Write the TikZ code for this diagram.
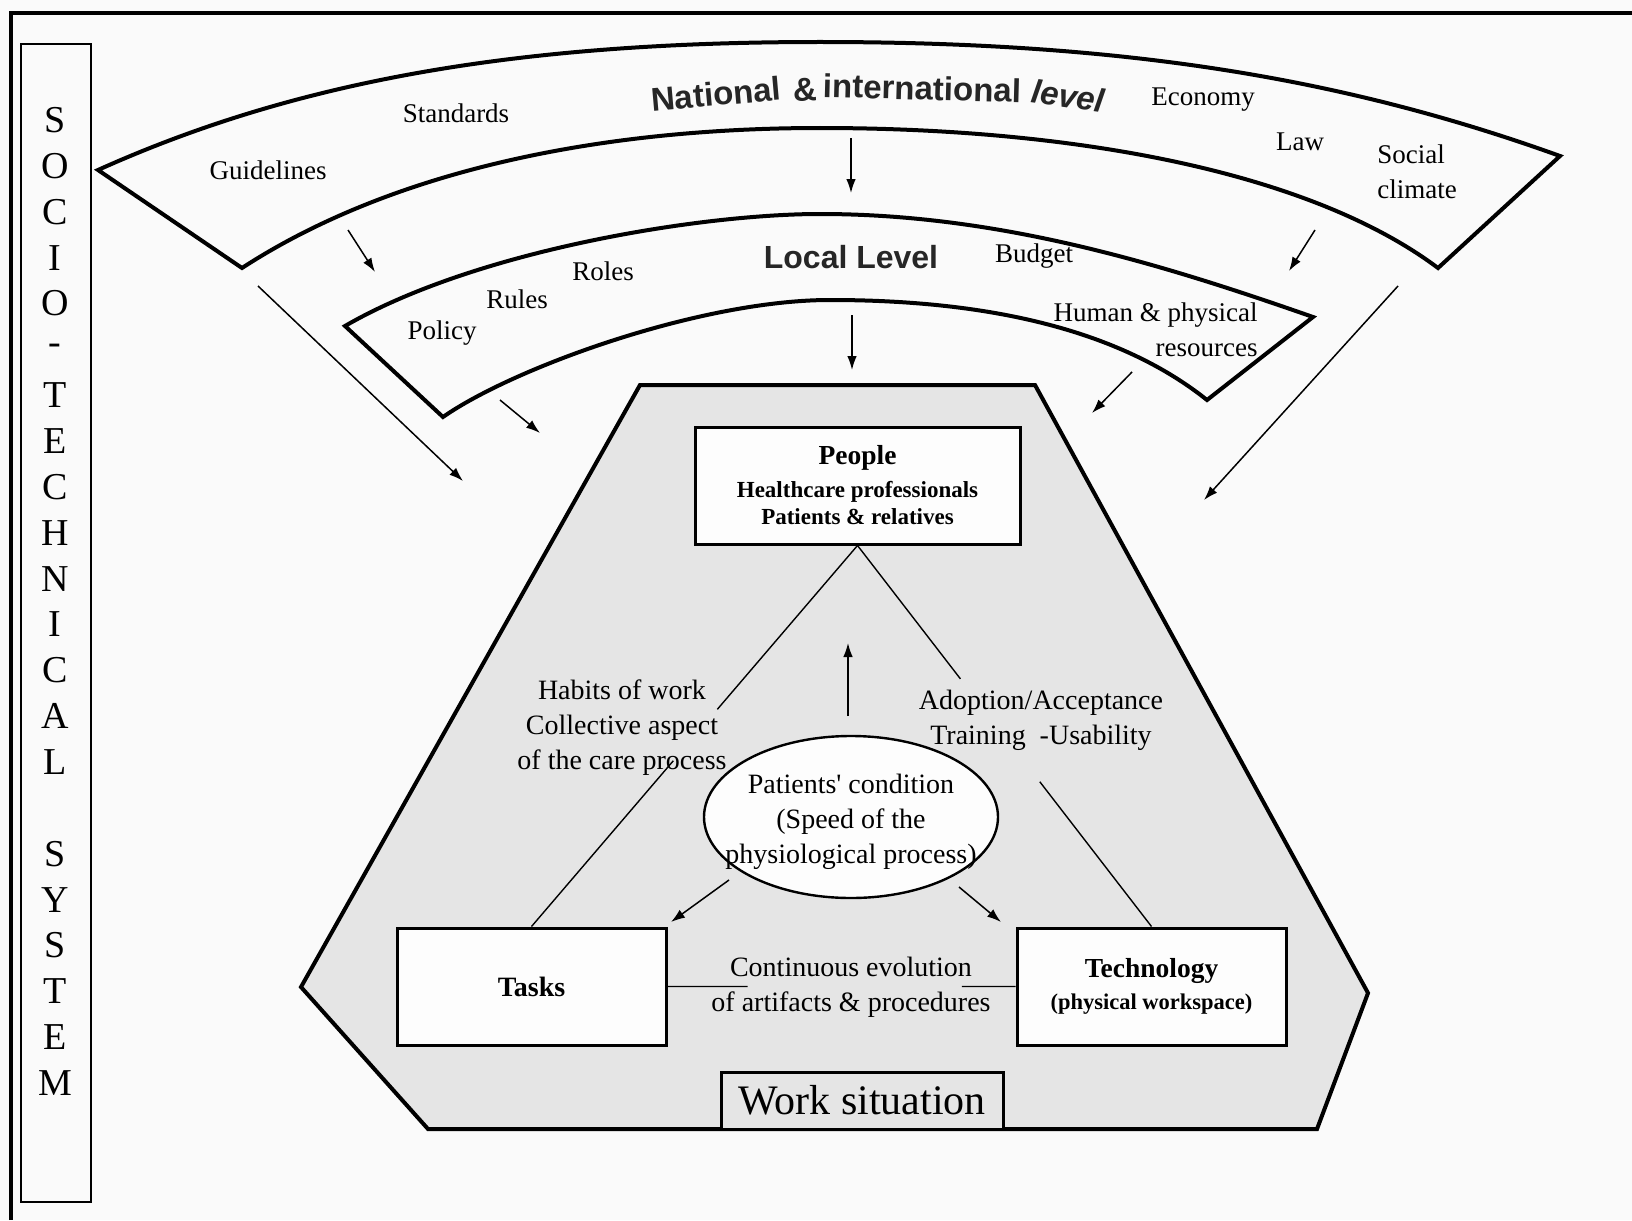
\documentclass[tikz,border=0pt]{standalone}
\usepackage{fontspec}
\setmainfont{Liberation Serif}
\newfontfamily\headfont{Liberation Sans}
\usetikzlibrary{arrows.meta,calc,shapes.geometric}

\definecolor{paper}{RGB}{250,250,250}
\definecolor{situation}{RGB}{229,229,229}
\definecolor{boxfill}{RGB}{253,253,253}

\begin{document}
\begin{tikzpicture}[x=0.5pt,y=-0.5pt,
  band/.style={line width=2pt,line join=miter,miter limit=4},
  linkline/.style={line width=0.7pt},
  arr/.style={line width=0.75pt,-{Latex[length=7pt,width=4.8pt]}},
  lbl/.style={inner sep=0pt,font=\fontsize{13.5}{17.5}\selectfont},
  midlbl/.style={inner sep=0pt,align=center,font=\fontsize{14}{17.5}\selectfont},
  heading/.style={inner sep=0pt,text=black!85},
  entity/.style={draw,line width=1.5pt,fill=boxfill,inner sep=0pt,align=center},
]
% page and outer frame
\fill[paper] (0,0) rectangle (1632,1220);
\useasboundingbox (0,0) rectangle (1632,1220);
\draw[line width=2.25pt] (11,1220) -- (11,13) -- (1632,13);

% socio-technical column
\draw[line width=0.6pt] (21,44) rectangle (91,1202);
\foreach \ch [count=\i from 0] in {S,O,C,I,O,-,T,E,C,H,N,I,C,A,L,{},S,Y,S,T,E,M}
  \node[inner sep=0pt,font=\fontsize{19}{19}\selectfont] (sts\i) at (55,{120+45.86*\i}) {\ch};

% national & international band
\draw[band] (98,170) .. controls (298,80) and (520,42) .. (820,42)
  .. controls (1120,42) and (1340,76.8) .. (1560,156) -- (1438,268)
  .. controls (1308,170.5) and (1070,128) .. (820,128)
  .. controls (600,128) and (392,170.5) .. (242,268) -- cycle;

\node[heading,rotate=5,font=\headfont\bfseries\fontsize{16.5}{20}\selectfont] (natA) at (716,94) {National};
\node[heading,rotate=2,font=\headfont\bfseries\fontsize{16.5}{20}\selectfont] (natB) at (805,90) {\&};
\node[heading,rotate=-1.5,font=\headfont\bfseries\fontsize{16.5}{20}\selectfont] (natC) at (922,88) {international};
\node[heading,rotate=-8,font=\headfont\bfseries\itshape\fontsize{16.5}{20}\selectfont] (natD) at (1068,96) {level};

\node[lbl] (guide) at (268,170) {Guidelines};
\node[lbl] (std) at (456,113) {Standards};
\node[lbl] (econ) at (1203,100) {Economy};
\node[lbl] (law) at (1300,142) {Law};
\node[lbl,align=left,anchor=west] (social) at (1377,172) {Social\\climate};

% local band
\draw[band] (345,326) .. controls (475,250.6) and (700,214) .. (820,214)
  .. controls (1000,214) and (1163,264.5) .. (1313,317) -- (1207,400)
  .. controls (1107,320) and (960,300) .. (830,300)
  .. controls (700,300) and (513,368) .. (443,417) -- cycle;

\node[heading,font=\headfont\bfseries\fontsize{16}{20}\selectfont] (local) at (851,257) {Local Level};
\node[lbl] (roles) at (603,271) {Roles};
\node[lbl] (rules) at (517,299) {Rules};
\node[lbl] (policy) at (442,333) {Policy};
\node[lbl] (budget) at (1034,256) {Budget};
\node[lbl,align=right,anchor=east] (human) at (1258,330) {Human \& physical\\resources};

% influence arrows
\coordinate (a1s) at (851,138); \coordinate (a1e) at (851,193);
\coordinate (a2s) at (852,315); \coordinate (a2e) at (852,370);
\coordinate (a3s) at (348,230); \coordinate (a3e) at (375,272);
\coordinate (a4s) at (1315,230); \coordinate (a4e) at (1289,271);
\coordinate (a5s) at (500,400); \coordinate (a5e) at (540,433);
\coordinate (a6s) at (1132,372); \coordinate (a6e) at (1092,413);
\coordinate (a7s) at (258,286); \coordinate (a7e) at (463,481);
\coordinate (a8s) at (1398,286); \coordinate (a8e) at (1204,500);
\foreach \k in {1,...,8} \draw[arr] (a\k s) -- (a\k e);

% work situation
\draw[line width=2pt,fill=situation,line join=miter] (640,385) -- (1035,385) -- (1368,993) -- (1317,1129) -- (428,1129) -- (301,987) -- cycle;

\node[entity,minimum width=162.5pt,minimum height=58.5pt,font=\bfseries\fontsize{11.5}{13.5}\selectfont] (people) at (857.5,485.5)
  {\fontsize{13.75}{15}\selectfont People\\[3pt]
   Healthcare professionals\\
   Patients \& relatives};
\node[entity,minimum width=134.5pt,minimum height=58.5pt,font=\bfseries\fontsize{14}{16}\selectfont] (tasks) at (531.5,986.5) {Tasks};
\node[entity,minimum width=134.5pt,minimum height=58.5pt,font=\bfseries\fontsize{11.25}{16}\selectfont] (tech) at (1151.5,986.5)
  {\fontsize{13.75}{16}\selectfont Technology\\
   (physical workspace)};
\node[draw,line width=1.5pt,fill=situation,minimum width=141pt,minimum height=28.5pt,inner sep=0pt,font=\fontsize{21}{21}\selectfont] (work) at (862,1100.5) {Work situation};

\node[ellipse,draw,line width=1.2pt,fill=boxfill,minimum width=147pt,minimum height=81pt,inner sep=0pt] (cond) at (851,817) {};
\node[midlbl] (condtext) at (851,822) {Patients\textquotesingle{} condition\\(Speed of the\\physiological process)};

\node[midlbl] (habits) at (622,728) {Habits of work\\Collective aspect\\of the care process};
\node[midlbl] (adopt) at (1041,720) {Adoption/Acceptance\\Training\ \ -Usability};
\node[midlbl] (evol) at (851,987) {Continuous evolution\\of artifacts \& procedures};

% relations between the three poles
\draw[linkline] (people.south) -- ($(people.south)!0.43!(tasks.north)$);
\draw[linkline] ($(people.south)!0.565!(tasks.north)$) -- (tasks.north);
\draw[linkline] (people.south) -- ($(people.south)!0.35!(tech.north)$);
\draw[linkline] ($(people.south)!0.62!(tech.north)$) -- (tech.north);
\draw[linkline] (tasks.east) -- ($(tasks.east)!0.23!(tech.west)$);
\draw[linkline] ($(tasks.east)!0.846!(tech.west)$) -- (tech.west);

% influence of the patients' condition
\coordinate (u1) at (848,716); \coordinate (u2) at (848,643);
\coordinate (l1) at (729,880); \coordinate (l2) at (671,922);
\coordinate (r1) at (959,887); \coordinate (r2) at (1001,922);
\draw[arr] (u1) -- (u2);
\draw[arr] (l1) -- (l2);
\draw[arr] (r1) -- (r2);
\end{tikzpicture}
\end{document}
